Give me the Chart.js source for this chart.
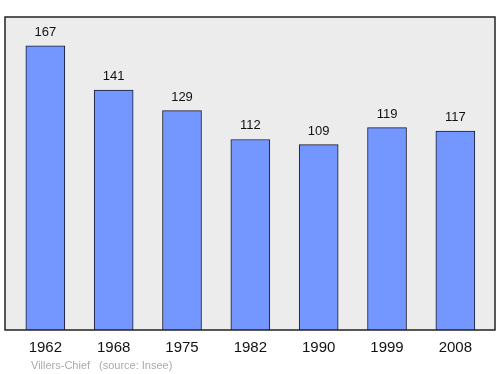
<!DOCTYPE html>
<html><head><meta charset="utf-8">
<script src="https://cdn.jsdelivr.net/npm/chart.js@4/dist/chart.umd.min.js"></script>
<style>html,body{margin:0;padding:0;background:#fff}#w{width:500px;height:374px;position:relative}</style>
</head><body><div id="w"><canvas id="c" width="500" height="374"></canvas></div>
<script>
const years = ["1962","1968","1975","1982","1990","1999","2008"];
const population = [167,141,129,112,109,119,117];
const footerPlace = "Villers-Chief";
const footerSource = "(source: Insee)";

const points = population.map((v,i)=>({x:i,y:v}));

const deco = {
  id:'deco',
  beforeDatasetsDraw(chart){
    const {ctx, chartArea:a} = chart;
    ctx.save();
    ctx.fillStyle = '#ececec';
    ctx.fillRect(a.left, a.top, a.right-a.left, a.bottom-a.top);
    ctx.restore();
  },
  afterDatasetsDraw(chart){
    const {ctx, chartArea:a} = chart;
    ctx.save();
    ctx.strokeStyle = '#222';
    ctx.lineWidth = 1.5;
    ctx.strokeRect(a.left, a.top, a.right-a.left, a.bottom-a.top);
    const meta = chart.getDatasetMeta(0);
    ctx.fillStyle = '#111';
    ctx.font = '13px "Liberation Sans", Arial, sans-serif';
    ctx.textAlign = 'center';
    ctx.textBaseline = 'alphabetic';
    meta.data.forEach((el,i)=>{
      ctx.fillText(String(population[i]), el.x, el.y - 10);
    });
    ctx.fillStyle = '#aaa';
    ctx.font = '11px "Liberation Sans", Arial, sans-serif';
    ctx.textAlign = 'left';
    ctx.fillText(footerPlace, 31, 369);
    ctx.fillText(footerSource, 99, 369);
    ctx.restore();
  }
};

new Chart(document.getElementById('c'), {
  type:'bar',
  data:{datasets:[{data:points, backgroundColor:'#7396ff', borderColor:'#1a1a2e', borderWidth:1, barThickness:39, borderSkipped:'bottom'}]},
  options:{
    responsive:false, animation:false,
    layout:{padding:{left:5,right:5,top:17,bottom:0}},
    plugins:{legend:{display:false}, tooltip:{enabled:false}},
    scales:{
      x:{type:'linear', offset:false, min:-0.59, max:6.58,
        grid:{display:false}, border:{display:false},
        afterFit(s){ s.height = 44; },
        ticks:{stepSize:1, includeBounds:false, autoSkip:false, padding:1, color:'#111',
          font:{family:'"Liberation Sans", Arial, sans-serif', size:15},
          callback:(v)=> Number.isInteger(v) && years[v] ? years[v] : ''}
      },
      y:{display:false, min:0, max:184}
    }
  },
  plugins:[deco]
});
</script></body></html>
